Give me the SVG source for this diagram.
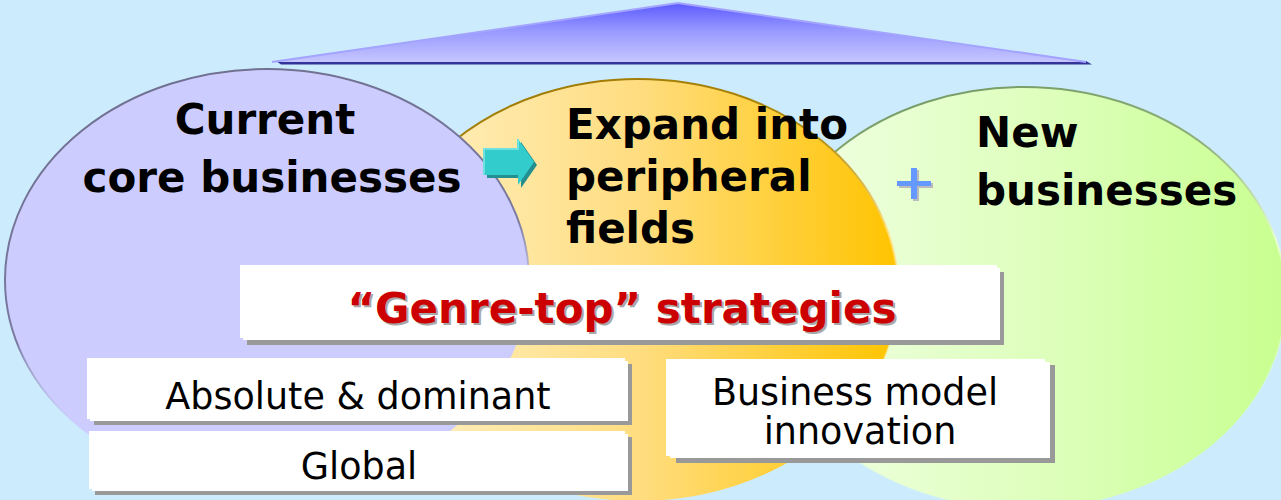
<svg xmlns="http://www.w3.org/2000/svg" width="1281" height="500" viewBox="0 0 1281 500">
  <defs>
    <linearGradient id="gTriangle" x1="0" y1="0" x2="0" y2="1">
      <stop offset="0" stop-color="#5A5AFF"/>
      <stop offset="0.45" stop-color="#9696FF"/>
      <stop offset="1" stop-color="#C6C6FF"/>
    </linearGradient>
    <linearGradient id="gOrange" x1="0" y1="0" x2="1" y2="0">
      <stop offset="0" stop-color="#FFF2C8"/>
      <stop offset="0.5" stop-color="#FFDD80"/>
      <stop offset="1" stop-color="#FFC400"/>
    </linearGradient>
    <linearGradient id="gGreen" x1="0" y1="0" x2="1" y2="0">
      <stop offset="0" stop-color="#F2FFE6"/>
      <stop offset="0.55" stop-color="#DDFFBB"/>
      <stop offset="1" stop-color="#C8FF90"/>
    </linearGradient>
    <linearGradient id="sLavender" x1="0" y1="0" x2="0.3" y2="1">
      <stop offset="0" stop-color="#6E6E8C"/>
      <stop offset="0.6" stop-color="#7A7AA0"/>
      <stop offset="0.85" stop-color="#CCCCFF" stop-opacity="0"/>
    </linearGradient>
    <linearGradient id="sOrange" x1="0" y1="0" x2="0.3" y2="1">
      <stop offset="0" stop-color="#9A7600"/>
      <stop offset="0.35" stop-color="#B08A10"/>
      <stop offset="0.6" stop-color="#FFE080"/>
      <stop offset="1" stop-color="#FFE080" stop-opacity="0"/>
    </linearGradient>
    <linearGradient id="sGreen" x1="0" y1="0" x2="0.3" y2="1">
      <stop offset="0" stop-color="#6E9460"/>
      <stop offset="0.35" stop-color="#8FB07A"/>
      <stop offset="0.6" stop-color="#E6FFCC"/>
      <stop offset="1" stop-color="#E6FFCC" stop-opacity="0"/>
    </linearGradient>
  </defs>
  <style>
    .head { font-family: "DejaVu Sans", Verdana, sans-serif; font-weight: bold; font-size: 42px; fill: #000; }
    .item { font-family: "DejaVu Sans", Verdana, sans-serif; font-size: 36.5px; fill: #000; text-anchor: middle; }
    .title { font-family: "DejaVu Sans", Verdana, sans-serif; font-weight: bold; font-size: 42px; text-anchor: middle; }
    .box { fill: #FFFFFF; }
    .boxShade { fill: #999999; }
  </style>

  <!-- backdrop -->
  <rect x="0" y="0" width="1281" height="500" fill="#CCECFE"/>

  <!-- roof over the three circles -->
  <g id="roof">
    <polygon points="276,61 1086,61 1092,64.5 281,64.5" fill="#333399"/>
    <polygon points="678,3 1086,62 272,62" fill="url(#gTriangle)"/>
    <polyline points="272,62 678,3 1086,62" fill="none" stroke="#A4A4FF" stroke-width="2" stroke-linejoin="round"/>
  </g>

  <!-- new businesses -->
  <g id="new-businesses">
    <ellipse cx="1024" cy="298" rx="262" ry="211" fill="url(#gGreen)" stroke="url(#sGreen)" stroke-width="2"/>
    <text class="head" x="976" y="147">New</text>
    <text class="head" x="976" y="205">businesses</text>
  </g>

  <!-- peripheral fields -->
  <g id="peripheral-fields">
    <ellipse cx="638" cy="290" rx="260" ry="211" fill="url(#gOrange)" stroke="url(#sOrange)" stroke-width="2"/>
    <text class="head" x="566" y="139">Expand into</text>
    <text class="head" x="566" y="191">peripheral</text>
    <text class="head" x="566" y="243">fields</text>
  </g>

  <!-- current core businesses -->
  <g id="core-businesses">
    <ellipse cx="267" cy="280" rx="262" ry="211" fill="#CCCCFF" stroke="url(#sLavender)" stroke-width="2"/>
    <text class="head" x="265" y="134" text-anchor="middle">Current</text>
    <text class="head" x="272" y="192" text-anchor="middle">core businesses</text>
  </g>

  <!-- links between the circles -->
  <g id="connectors">
    <g id="arrow-core-to-peripheral">
      <polygon points="487,152 521,152 521,142 537,165 521,188 521,178 487,178" fill="#238F8F"/>
      <polygon points="484,149 518,149 518,139 534,162 518,185 518,175 484,175" fill="#33CCCC"/>
      <polyline points="484,175 484,149 518,149 518,139" fill="none" stroke="#6EE0E0" stroke-width="2"/>
    </g>
    <g id="plus-peripheral-and-new">
      <rect x="899" y="183" width="34" height="5" fill="#BBBBBB"/>
      <rect x="913" y="170" width="6" height="31" fill="#BBBBBB"/>
      <rect x="897" y="181" width="34" height="5" fill="#6699FF"/>
      <rect x="911" y="168" width="6" height="31" fill="#6699FF"/>
    </g>
  </g>

  <!-- strategy banner -->
  <g id="genre-top">
    <rect class="boxShade" x="247" y="272" width="757" height="73"/>
    <rect class="box" x="243" y="268" width="757" height="72"/>
    <rect class="box" x="240" y="265" width="757" height="73"/>
    <text class="title" x="624" y="325" fill="#A8A8A8">“Genre-top” strategies</text>
    <text class="title" x="622" y="323" fill="#CC0000">“Genre-top” strategies</text>
  </g>

  <g id="absolute-dominant">
    <rect class="boxShade" x="94" y="364" width="538" height="61"/>
    <rect class="box" x="90" y="361" width="538" height="60"/>
    <rect class="box" x="87" y="358" width="538" height="61"/>
    <text class="item" x="358" y="409">Absolute &amp; dominant</text>
  </g>

  <g id="global">
    <rect class="boxShade" x="95" y="437" width="537" height="58"/>
    <rect class="box" x="92" y="434" width="536" height="57"/>
    <rect class="box" x="89" y="431" width="536" height="58"/>
    <text class="item" x="359" y="479">Global</text>
  </g>

  <g id="business-model">
    <rect class="boxShade" x="676" y="365" width="379" height="98"/>
    <rect class="box" x="670" y="362" width="380" height="96"/>
    <rect class="box" x="666" y="359" width="379" height="97"/>
    <text class="item" x="855" y="405">Business model</text>
    <text class="item" x="860" y="444">innovation</text>
  </g>
</svg>
